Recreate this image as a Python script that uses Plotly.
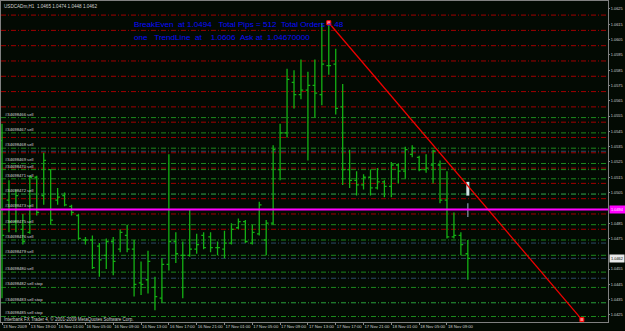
import plotly.graph_objects as go

# ---------------- data ----------------
bar_idx = list(range(68))
opens = [1.0539, 1.0500, 1.0486, 1.0481, 1.0479, 1.0515, 1.0503, 1.0520, 1.0500, 1.0503,
         1.0496, 1.0490, 1.0474, 1.0474, 1.0470, 1.0464, 1.0473, 1.0468, 1.0477, 1.0468,
         1.0446, 1.0448, 1.0443, 1.0436, 1.0458, 1.0473, 1.0464, 1.0464, 1.0468, 1.0477,
         1.0476, 1.0469, 1.0468, 1.0472, 1.0482, 1.0486, 1.0472, 1.0478, 1.0474, 1.0485,
         1.0520, 1.0544, 1.0577, 1.0569, 1.0572, 1.0575, 1.0569, 1.0588, 1.0589, 1.0561,
         1.0520, 1.0513, 1.0510, 1.0515, 1.0508, 1.0512, 1.0509, 1.0523, 1.0519, 1.0530,
         1.0528, 1.0520, 1.0523, 1.0523, 1.0500, 1.0476, 1.0477, 1.0465]
highs = [1.0550, 1.0513, 1.0507, 1.0491, 1.0516, 1.0516, 1.0531, 1.0520, 1.0508, 1.0505,
         1.0497, 1.0491, 1.0476, 1.0477, 1.0472, 1.0475, 1.0476, 1.0481, 1.0484, 1.0474,
         1.0460, 1.0467, 1.0450, 1.0462, 1.0530, 1.0479, 1.0473, 1.0494, 1.0478, 1.0479,
         1.0479, 1.0473, 1.0480, 1.0485, 1.0488, 1.0487, 1.0484, 1.0499, 1.0487, 1.0536,
         1.0550, 1.0586, 1.0585, 1.0592, 1.0584, 1.0592, 1.0616, 1.0616, 1.0599, 1.0576,
         1.0533, 1.0519, 1.0517, 1.0520, 1.0521, 1.0513, 1.0525, 1.0524, 1.0535, 1.0536,
         1.0529, 1.0530, 1.0533, 1.0526, 1.0519, 1.0492, 1.0479, 1.0474]
lows = [1.0436, 1.0479, 1.0479, 1.0471, 1.0478, 1.0490, 1.0497, 1.0484, 1.0497, 1.0496,
        1.0490, 1.0474, 1.0471, 1.0455, 1.0450, 1.0455, 1.0451, 1.0466, 1.0466, 1.0437,
        1.0438, 1.0439, 1.0428, 1.0433, 1.0454, 1.0459, 1.0436, 1.0463, 1.0465, 1.0468,
        1.0466, 1.0464, 1.0462, 1.0471, 1.0481, 1.0472, 1.0471, 1.0477, 1.0464, 1.0484,
        1.0513, 1.0541, 1.0560, 1.0566, 1.0526, 1.0554, 1.0562, 1.0582, 1.0556, 1.0510,
        1.0508, 1.0503, 1.0507, 1.0503, 1.0507, 1.0502, 1.0502, 1.0511, 1.0514, 1.0528,
        1.0519, 1.0518, 1.0511, 1.0498, 1.0475, 1.0475, 1.0464, 1.0448]
closes = [1.0477, 1.0486, 1.0503, 1.0473, 1.0515, 1.0492, 1.0526, 1.0487, 1.0502, 1.0497,
          1.0492, 1.0475, 1.0474, 1.0456, 1.0461, 1.0473, 1.0460, 1.0479, 1.0468, 1.0445,
          1.0445, 1.0460, 1.0437, 1.0458, 1.0473, 1.0465, 1.0464, 1.0468, 1.0471, 1.0469,
          1.0469, 1.0469, 1.0472, 1.0481, 1.0486, 1.0473, 1.0479, 1.0497, 1.0485, 1.0533,
          1.0544, 1.0579, 1.0569, 1.0572, 1.0575, 1.0570, 1.0589, 1.0588, 1.0560, 1.0520,
          1.0513, 1.0510, 1.0515, 1.0508, 1.0512, 1.0509, 1.0523, 1.0519, 1.0533, 1.0534,
          1.0520, 1.0521, 1.0532, 1.0500, 1.0476, 1.0477, 1.0471, 1.0462]

time_ticks = [0, 4, 8, 12, 16, 20, 24, 28, 32, 36, 40, 44, 48, 52, 56, 60, 64]
time_labels = ["13 Nov 2009", "13 Nov 19:00", "16 Nov 01:00", "16 Nov 05:00", "16 Nov 09:00",
               "16 Nov 13:00", "16 Nov 17:00", "16 Nov 21:00", "17 Nov 01:00", "17 Nov 05:00",
               "17 Nov 09:00", "17 Nov 13:00", "17 Nov 17:00", "17 Nov 21:00", "18 Nov 01:00",
               "18 Nov 05:00", "18 Nov 09:00"]

# price scale labels (the 1.0495 and 1.0465 labels are hidden under the
# breakeven and bid boxes in the reference)
price_ticks = [1.0625, 1.0615, 1.0605, 1.0595, 1.0585, 1.0575, 1.0565, 1.0555, 1.0545, 1.0535,
               1.0525, 1.0515, 1.0505, 1.0485, 1.0475, 1.0455, 1.0445, 1.0435, 1.0425]
price_labels = ["1.0625", "1.0615", "1.0605", "1.0595", "1.0585", "1.0575", "1.0565", "1.0555",
                "1.0545", "1.0535", "1.0525", "1.0515", "1.0505", "1.0485", "1.0475",
                "1.0455", "1.0445", "1.0435", "1.0425"]

# order lines (open prices) and their labels
order_levels = [1.0554, 1.0544, 1.0534, 1.0524, 1.0520, 1.0514, 1.0504, 1.0494, 1.0484,
                1.0474, 1.0464, 1.0453, 1.0443, 1.0433, 1.0424]
order_labels = ["#34698466 sell", "#34698467 sell", "#34698468 sell", "#34698469 sell",
                "#34698470 sell", "#34698471 sell", "#34698472 sell", "#34698473 sell",
                "#34698475 sell", "#34698476 sell", "#34698479 sell", "#34698480 sell",
                "#34698482 sell stop", "#34698483 sell stop", "#34698485 sell stop"]
stop_levels = [1.0621, 1.0611, 1.0601, 1.0591, 1.0581, 1.0571, 1.0561, 1.0551, 1.0541,
               1.0531, 1.0521, 1.0511, 1.0501, 1.0491, 1.0481]
pending_levels = [1.0532, 1.0504, 1.0472, 1.0462, 1.0449, 1.0433]

breakeven = 1.0494
bid = 1.0462
trend_x = [47, 83.4]
trend_y = [1.0616, 1.0422]
marker_bar = [67]
marker_top = [1.0512, 1.0503]
marker_low = [1.0498, 1.0489]

header_text = "USDCADm,H1  1.0465 1.0474 1.0448 1.0462"
info_line1 = "BreakEven  at 1.0494   Total Pips = 512  Total Orders = 48"
info_line2 = "one   TrendLine  at    1.0606  Ask at  1.04670000"
copyright_text = "Interbank FX Trader 4, \u00a9 2001-2009 MetaQuotes Software Corp."

# ---------------- figure ----------------
BG = "#030a03"
W, H = 625, 331
ML, MR, MT, MB = 1, 17, 1, 9
PW = W - ML - MR
PH = H - MT - MB
FONT = "Liberation Sans"


def nb(s):
    return s.replace(" ", "\u00a0")


fig = go.Figure()

fig.add_trace(go.Ohlc(
    x=bar_idx, open=opens, high=highs, low=lows, close=closes,
    increasing=dict(line=dict(color="#14b014", width=1.3)),
    decreasing=dict(line=dict(color="#14b014", width=1.3)),
    tickwidth=0.33, hoverinfo="skip", showlegend=False))

fig.add_trace(go.Scatter(
    x=marker_bar * 2, y=marker_top, mode="lines",
    line=dict(color="#cfe4e4", width=3), hoverinfo="skip", showlegend=False))
fig.add_trace(go.Scatter(
    x=marker_bar * 2, y=marker_low, mode="lines",
    line=dict(color="#7d8ea0", width=1.3), hoverinfo="skip", showlegend=False))

fig.add_trace(go.Scatter(
    x=trend_x, y=trend_y, mode="lines+markers",
    line=dict(color="#ee0000", width=1.3),
    marker=dict(symbol="square", size=4, color="#ff8080", line=dict(color="#ff0000", width=1)),
    hoverinfo="skip", showlegend=False))

shapes = []
dd = "5px,2px,1px,2px"
for lv in pending_levels:
    shapes.append(dict(type="line", xref="paper", x0=0, x1=1, yref="y", y0=lv, y1=lv,
                       line=dict(color="#2c4a66", width=1, dash=dd), layer="below"))
for lv in stop_levels:
    shapes.append(dict(type="line", xref="paper", x0=0, x1=1, yref="y", y0=lv, y1=lv,
                       line=dict(color="#a00000", width=1, dash=dd), layer="below"))
for lv in order_levels:
    shapes.append(dict(type="line", xref="paper", x0=0, x1=1, yref="y", y0=lv, y1=lv,
                       line=dict(color="#1d8a1d", width=1, dash=dd), layer="below"))
shapes.append(dict(type="line", xref="paper", x0=0, x1=1, yref="y", y0=breakeven, y1=breakeven,
                   line=dict(color="#ff00ff", width=2), layer="above"))

annotations = []
for lv, txt in zip(order_levels, order_labels):
    annotations.append(dict(xref="paper", yref="y", x=3 / PW, y=lv, text=nb(txt),
                            xanchor="left", yanchor="middle", yshift=3.5, showarrow=False,
                            borderpad=0,
                            font=dict(family=FONT, size=4.2, color="#d8d8d8")))

annotations.append(dict(xref="paper", yref="paper", x=2 / PW, y=1 - 5 / PH, text=nb(header_text),
                        xanchor="left", yanchor="middle", showarrow=False, borderpad=0,
                        font=dict(family=FONT, size=4.6, color="#d0d0d0")))
annotations.append(dict(xref="paper", yref="paper", x=2 / PW, y=3 / PH, text=nb(copyright_text),
                        xanchor="left", yanchor="middle", showarrow=False, borderpad=0,
                        font=dict(family=FONT, size=4.5, color="#d0d0d0")))
annotations.append(dict(xref="paper", yref="paper", x=132 / PW, y=1 - 23 / PH, text=nb(info_line1),
                        xanchor="left", yanchor="middle", showarrow=False, borderpad=0,
                        font=dict(family=FONT, size=8.1, color="#0a0aff")))
annotations.append(dict(xref="paper", yref="paper", x=132 / PW, y=1 - 36 / PH, text=nb(info_line2),
                        xanchor="left", yanchor="middle", showarrow=False, borderpad=0,
                        font=dict(family=FONT, size=8.1, color="#0a0aff")))
annotations.append(dict(xref="paper", yref="y", x=1, y=breakeven, text="1.0494",
                        xanchor="left", yanchor="middle", showarrow=False, xshift=1,
                        bgcolor="#ff00ff", borderpad=1,
                        font=dict(family=FONT, size=3.9, color="#ffffff")))
annotations.append(dict(xref="paper", yref="y", x=1, y=bid, text="1.0462",
                        xanchor="left", yanchor="middle", showarrow=False, xshift=1,
                        bgcolor="#e8e8e8", borderpad=1,
                        font=dict(family=FONT, size=3.9, color="#000000")))

fig.update_layout(
    width=W, height=H,
    margin=dict(l=ML, r=MR, t=MT, b=MB, pad=0, autoexpand=False),
    paper_bgcolor=BG, plot_bgcolor=BG,
    shapes=shapes, annotations=annotations,
    showlegend=False,
    xaxis=dict(range=[-0.144, 87.16], tickmode="array", tickvals=time_ticks, ticktext=time_labels,
               ticks="outside", ticklen=2, tickcolor="#888888", tickangle=0,
               ticklabelposition="outside right", automargin=False,
               tickfont=dict(family=FONT, size=4.2, color="#d0d0d0"),
               showgrid=False, zeroline=False, showline=True, linecolor="#808080",
               linewidth=1, mirror=True, rangeslider=dict(visible=False), fixedrange=True),
    yaxis=dict(range=[1.04204, 1.06302], side="right", tickmode="array",
               tickvals=price_ticks, ticktext=price_labels, automargin=False,
               ticks="outside", ticklen=1, tickcolor="#888888",
               tickfont=dict(family=FONT, size=3.9, color="#d0d0d0"),
               showgrid=False, zeroline=False, showline=True, linecolor="#808080",
               linewidth=1, mirror=True, fixedrange=True),
)

fig.write_html("out.html")
